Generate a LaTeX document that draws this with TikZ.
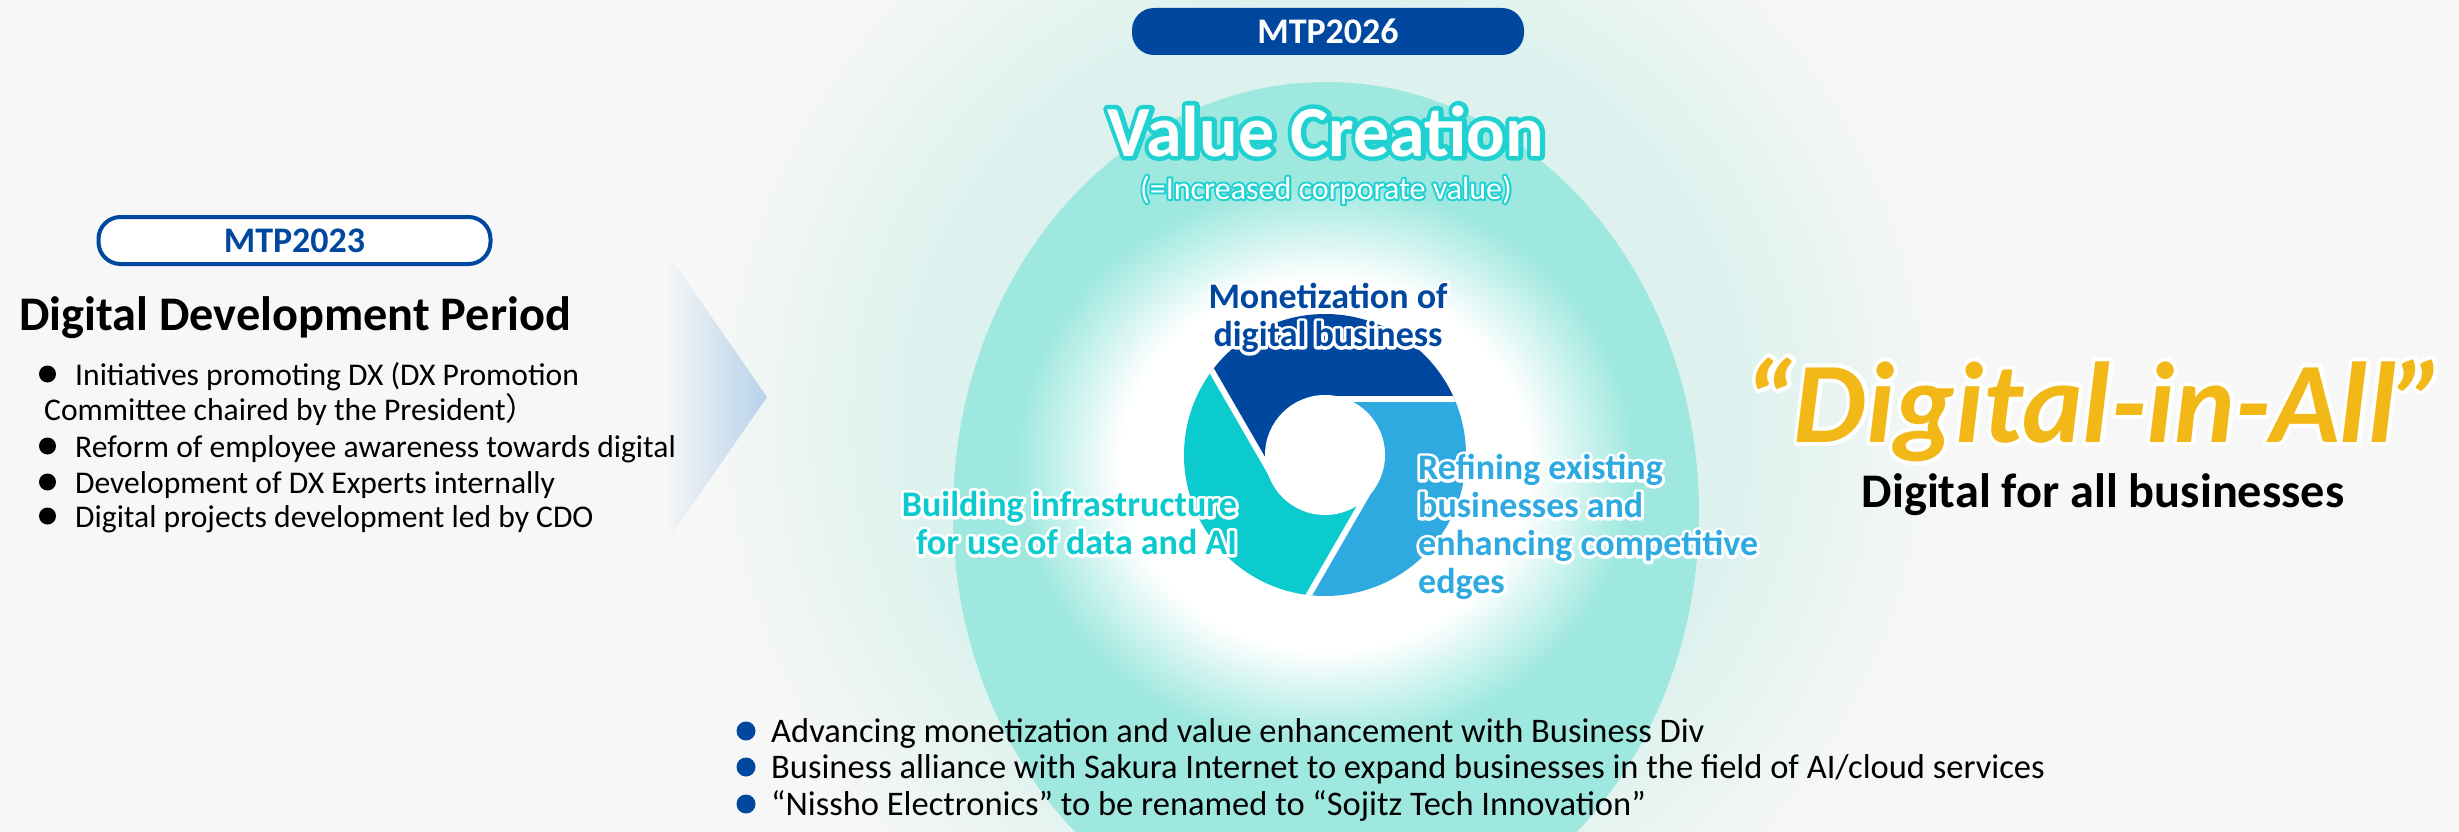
\documentclass[tikz,border=0pt]{standalone}
\usepackage{fontspec}
\setmainfont{Carlito}
\newfontfamily\cjkfont{Noto Sans CJK JP}
\usetikzlibrary{calc}
\definecolor{pagebg}{HTML}{F7F7F7}
\definecolor{mint}{HTML}{DDF2EE}
\definecolor{aqua}{HTML}{9EE8DF}
\definecolor{dxblue}{HTML}{0047A0}
\definecolor{skyblue}{HTML}{2EAAE1}
\definecolor{ringteal}{HTML}{0BCBCF}
\definecolor{gold}{HTML}{F2B818}
\definecolor{chevblue}{HTML}{B7D2EA}
\pgfdeclareradialshading{mintglow}{\pgfpointorigin}{%
  color(0bp)=(mint); color(16.4bp)=(mint); color(24.2bp)=(pagebg); color(50bp)=(pagebg)}
\pgfdeclareradialshading{whiteglow}{\pgfpointorigin}{%
  color(0bp)=(white); color(15.5bp)=(white); color(23.5bp)=(aqua); color(50bp)=(aqua)}
% outline copy of a text behind it: #1 = stroke rgb, #2 = stroke width, #3 = text
\newcommand{\halo}[3]{\leavevmode\rlap{\special{pdf:literal direct #2 w 1 j #1 RG 1 Tr}#3%
  \special{pdf:literal direct 0 Tr}}#3}
\tikzset{%
  tag/.style     = {rounded corners = 22, minimum width = 392, minimum height = 47,
    font = \fontsize{36}{40}\selectfont\bfseries},
  heading/.style = {font = \fontsize{48.3}{52}\selectfont\bfseries, inner sep = 0},
  item/.style    = {font = \fontsize{31.6}{36}\selectfont, anchor = base west, inner sep = 0},
  itemb/.style   = {font = \fontsize{34.5}{38}\selectfont, anchor = base west, inner sep = 0},
  bdot/.style    = {circle, fill, inner sep = 0, minimum size = 17},
  ringlbl/.style = {font = \fontsize{36}{38}\selectfont\bfseries, inner sep = 0},
  slogan/.style  = {font = \fontsize{115}{118}\selectfont\bfseries\itshape,
    text = gold, inner sep = 0}
}

\begin{document}
\begin{tikzpicture}[x = 1pt, y = -1pt]
% frame and background
\useasboundingbox (0,0) rectangle (2459,832);
\clip (0,0) rectangle (2459,832);
\fill[pagebg] (0,0) rectangle (2459,832);
\shade[shading = mintglow] (1326,420) circle[radius = 640];
\shade[left color = pagebg, right color = chevblue] (663,247) -- (767,397) -- (663,547) -- cycle;
\fill[aqua] (1326,513) ellipse[x radius = 373, y radius = 431];
\shade[shading = whiteglow] (1325,465) ellipse[x radius = 330, y radius = 300];
% ring
\begin{scope}[shift = {(1325,455)}, y = {(0pt,1pt)}]
  \clip (0,0) circle[radius = 141];
  \foreach \rot/\col in {0/dxblue, -120/skyblue, 120/ringteal}
    \fill[\col, rotate = \rot] (0,0) -- (90:56) -- (400,56) -- (-248.5,318.4) -- (210:56) -- cycle;
  \foreach \a in {90,210,330}
    \draw[white, line width = 6] (\a:56) -- ++(\a-90:200);
  \fill[white] (0,0) circle[radius = 60];
\end{scope}
% tags
\draw
  (1328,31.5) node [tag, fill = dxblue, text = white] (mtpnew) {MTP2026}
  (294.5,240.5) node [tag, draw = dxblue, line width = 4, fill = white, text = dxblue] (mtpold) {MTP2023};
% left column
\draw (19,330) node [heading, anchor = base west] (period) {Digital Development Period};
\draw
  (47.5,374) node [bdot] (d1) {}
  (47.5,446) node [bdot] (d2) {}
  (47.5,482) node [bdot] (d3) {}
  (47.5,516) node [bdot] (d4) {};
\draw
  (75,385) node [item] (l1) {Initiatives promoting DX (DX Promotion}
  (44,420) node [item] (l1b) {Committee chaired by the President{\cjkfont ）}}
  (75,457) node [item] (l2) {Reform of employee awareness towards digital}
  (75,493) node [item] (l3) {Development of DX Experts internally}
  (75,527) node [item] (l4) {Digital projects development led by CDO};
% centre titles
\draw (1326,156) node [anchor = base, inner sep = 0, text = white,
  font = \fontsize{72}{76}\selectfont\bfseries] (value)
  {\halo{0.12 0.82 0.82}{9}{Value Creation}};
\draw (1326,199) node [anchor = base, inner sep = 0, text = white,
  font = \fontsize{32}{36}\selectfont] (valuesub)
  {\halo{0.12 0.82 0.82}{4}{(=Increased corporate value)}};
% ring labels
\draw (1328,318) node [ringlbl, text = dxblue, align = center] (mono)
  {\halo{1 1 1}{6}{Monetization of}\\\halo{1 1 1}{6}{digital business}};
\draw (1237,523) node [ringlbl, text = ringteal, align = right, anchor = east] (build)
  {\halo{1 1 1}{6}{Building infrastructure}\\\halo{1 1 1}{6}{for use of data and AI}};
\draw (1418,527) node [ringlbl, text = skyblue, align = left, anchor = west] (refine)
  {\halo{1 1 1}{6}{Refining existing}\\\halo{1 1 1}{6}{businesses and}\\
   \halo{1 1 1}{6}{enhancing competitive}\\\halo{1 1 1}{6}{edges}};
% right side
\draw (2095,442) node [slogan, anchor = base] (dia) {\halo{1 1 1}{8}{“Digital-in-All”}};
\draw (2103,507) node [heading, anchor = base] (dfab) {Digital for all businesses};
% bottom list
\draw
  (746,731) node [bdot, fill = dxblue, minimum size = 19] (e1) {}
  (746,767) node [bdot, fill = dxblue, minimum size = 19] (e2) {}
  (746,804) node [bdot, fill = dxblue, minimum size = 19] (e3) {};
\draw
  (771,742) node [itemb] (m1) {Advancing monetization and value enhancement with Business Div}
  (771,778) node [itemb] (m2) {Business alliance with Sakura Internet to expand businesses in the field of AI/cloud services}
  (771,815) node [itemb] (m3) {“Nissho Electronics” to be renamed to “Sojitz Tech Innovation”};
\end{tikzpicture}
\end{document}
